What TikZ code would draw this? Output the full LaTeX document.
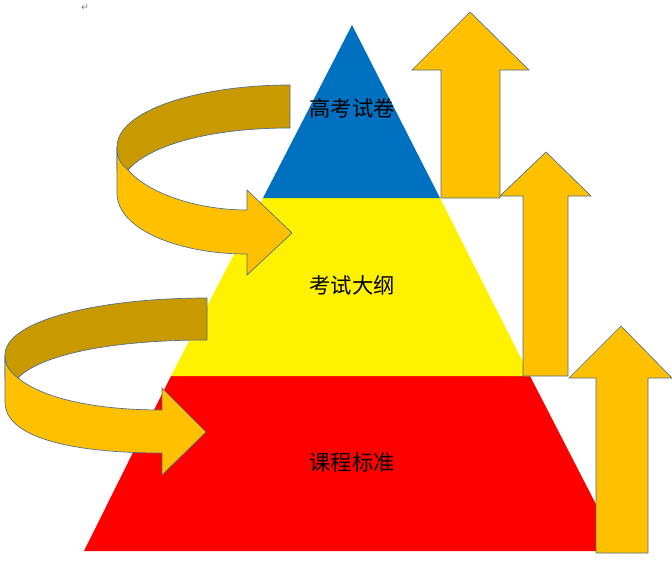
\documentclass[tikz,border=0pt]{standalone}
\usepackage{fontspec}
\newfontfamily\cjk{Noto Sans CJK SC}
\newfontfamily\dv{DejaVu Sans}
\definecolor{org}{HTML}{FFC000}
\definecolor{dorg}{HTML}{C99A00}
\definecolor{edge}{HTML}{4F6E8F}
\definecolor{pblue}{HTML}{0070C0}
\tikzset{arr/.style={fill=org,draw=edge,line width=0.5pt,line join=miter},
 darr/.style={fill=dorg,draw=edge,line width=0.5pt},
 lbl/.style={font=\cjk\fontsize{16}{18}\selectfont}}
\begin{document}
\begin{tikzpicture}[x=0.75pt,y=-0.75pt]
\useasboundingbox (0,0) rectangle (672,571);
\fill[white] (0,0) rectangle (672,571);
% pyramid
\fill[red] (171,376) -- (530,376) -- (620,551) -- (84,551) -- cycle;
\fill[yellow] (263,198) -- (440,198) -- (530,376) -- (171,376) -- cycle;
\fill[pblue] (352,25) -- (440,198) -- (263,198) -- cycle;
\node[lbl] (t1) at (352,108) {高考试卷};
\node[lbl] (t2) at (352,285) {考试大纲};
\node[lbl] (t3) at (352,462) {课程标准};
% up arrows
\draw[arr] (441,198) -- (441,70) -- (412,70) -- (470,12) -- (529,70) -- (500,70) -- (500,198) -- cycle;
\draw[arr] (523,376) -- (523,196) -- (500,196) -- (546,152) -- (591,196) -- (568,196) -- (568,376) -- cycle;
\draw[arr] (596,553) -- (596,378) -- (569,378) -- (621,326) -- (672,378) -- (648,378) -- (648,553) -- cycle;
% top curved arrow
\draw[darr] (290,85) -- (290,128) .. controls (210,128) and (150,145) .. (128,170) -- (117,170) -- (117,147) .. controls (117,110) and (200,85) .. (290,85) -- cycle;
\draw[arr] (117,147) .. controls (117,160) and (122,165) .. (128,170) .. controls (150,195) and (200,210) .. (247,210) -- (247,190) -- (292,233) -- (247,275) -- (247,254) .. controls (180,254) and (117,230) .. (117,193) -- cycle;
% bottom curved arrow
\draw[darr] (207,298) -- (207,340) .. controls (110,340) and (40,355) .. (18,378) -- (5,378) -- (5,355) .. controls (5,320) and (100,298) .. (207,298) -- cycle;
\draw[arr] (5,355) .. controls (5,366) and (10,372) .. (18,378) .. controls (45,400) and (100,410) .. (162,410) -- (162,388) -- (206,432) -- (162,475) -- (162,453) .. controls (80,453) and (5,440) .. (5,402) -- cycle;
\node[font=\dv\fontsize{7}{8}\selectfont,text=gray] (ret) at (85,8) {↵};
\end{tikzpicture}
\end{document}
